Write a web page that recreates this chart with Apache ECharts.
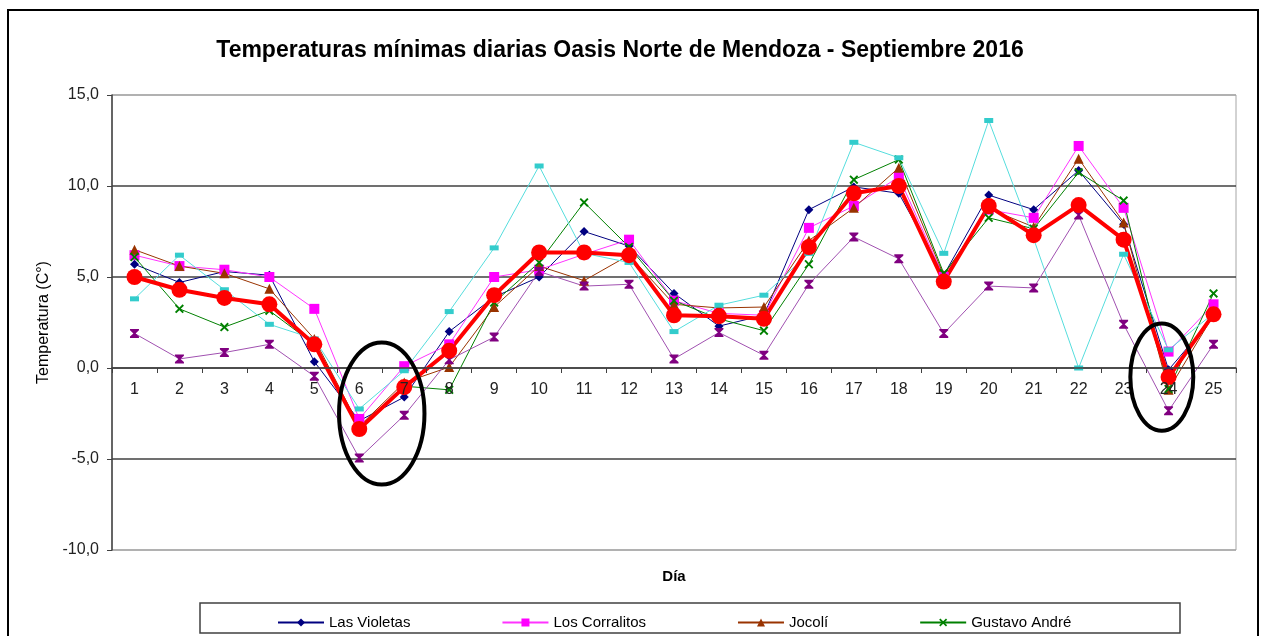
<!DOCTYPE html>
<html>
<head>
<meta charset="utf-8">
<script src="https://cdn.jsdelivr.net/npm/echarts@6/dist/echarts.min.js"></script>
<style>
  html, body { margin: 0; padding: 0; background: #fff; }
  #main { width: 1265px; height: 636px; }
</style>
</head>
<body>
<div id="main"></div>
<script>
// dias del mes
var dias = ['1','2','3','4','5','6','7','8','9','10','11','12','13','14','15','16','17','18','19','20','21','22','23','24','25'];

// minimas por estacion
var lasVioletas   = [5.7, 4.7, 5.3, 5.1, 0.35, -2.9, -1.6, 2.0, 3.9, 5.0, 7.5, 6.7, 4.1, 2.3, 2.9, 8.7, 9.95, 9.6, 5.1, 9.5, 8.7, 10.85, 7.9, -0.1, 2.8];
var losCorralitos = [6.2, 5.6, 5.4, 5.0, 3.25, -2.8, 0.1, 1.3, 5.0, 5.4, 6.25, 7.05, 3.7, 3.0, 2.9, 7.7, 8.9, 10.5, 5.0, 8.7, 8.25, 12.2, 8.8, 0.9, 3.5];
var jocoli        = [6.5, 5.6, 5.2, 4.35, 1.6, -3.2, -0.8, 0.05, 3.35, 5.6, 4.8, 6.2, 3.5, 3.3, 3.35, 7.0, 8.8, 11.0, 5.1, 8.75, 7.75, 11.5, 8.0, -1.2, 2.9];
var gustavoAndre  = [6.1, 3.25, 2.25, 3.15, 1.3, -3.3, -1.0, -1.2, 3.6, 5.8, 9.1, 6.65, 3.7, 2.7, 2.05, 5.7, 10.35, 11.45, 5.2, 8.25, 7.65, 10.75, 9.2, -1.15, 4.1];
var estacion5     = [3.8, 6.2, 4.3, 2.4, 1.6, -2.25, -0.15, 3.1, 6.6, 11.1, 6.3, 5.8, 2.0, 3.45, 4.0, 6.3, 12.4, 11.55, 6.3, 13.6, 7.1, 0.0, 6.25, 1.0, 3.0];
var estacion6     = [1.9, 0.5, 0.85, 1.3, -0.45, -4.95, -2.6, 0.45, 1.7, 5.3, 4.5, 4.6, 0.5, 1.95, 0.7, 4.6, 7.2, 6.0, 1.9, 4.5, 4.4, 8.4, 2.4, -2.35, 1.3];
var promedio      = [5.0, 4.3, 3.85, 3.5, 1.3, -3.35, -1.05, 0.95, 4.0, 6.35, 6.35, 6.2, 2.9, 2.85, 2.7, 6.65, 9.6, 10.0, 4.75, 8.9, 7.3, 8.95, 7.05, -0.5, 2.95];

// marcas resaltadas con elipse: [dia centro, valor centro, ancho en dias, alto en grados]
var elipses = [[6.5, -2.5, 1.9, 7.8], [23.85, -0.5, 1.4, 5.9]];

var FONT = '"Liberation Sans", Arial, sans-serif';
var XMARK = 'path://M0,1.5L1.5,0L5,3.5L8.5,0L10,1.5L6.5,5L10,8.5L8.5,10L5,6.5L1.5,10L0,8.5L3.5,5Z';
var RELOJ = 'path://M0,0L10,0L10,1.5L6.2,5L10,8.5L10,10L0,10L0,8.5L3.8,5L0,1.5Z';

var GRID_TOP = 95, GRID_BOTTOM = 86, Y_MIN = -10, Y_MAX = 15;
// el eje x va en el cero: se sube desde el borde inferior
var altoGrid = 636 - GRID_TOP - GRID_BOTTOM;
var offsetCero = altoGrid * (0 - Y_MIN) / (Y_MAX - Y_MIN);

var myChart = echarts.init(document.getElementById('main'));

function serie(name, data, color, symbol, size, width) {
  return {
    name: name,
    type: 'line',
    data: data,
    symbol: symbol,
    symbolSize: size,
    showSymbol: true,
    lineStyle: { color: color, width: width || 1 },
    itemStyle: { color: color, borderWidth: 0 },
    emphasis: { disabled: true },
    animation: false
  };
}

var option = {
  animation: false,
  title: {
    text: 'Temperaturas mínimas diarias Oasis Norte de Mendoza - Septiembre 2016',
    left: 615,
    textAlign: 'center',
    top: 34,
    textStyle: { fontFamily: FONT, fontSize: 23, fontWeight: 'bold', color: '#000' }
  },
  legend: {
    left: 272,
    top: 610,
    itemWidth: 46,
    itemHeight: 10,
    itemGap: 91,
    data: ['Las Violetas', 'Los Corralitos', 'Jocolí', 'Gustavo André'],
    textStyle: { fontFamily: FONT, fontSize: 15, color: '#000' }
  },
  grid: {
    left: 112, right: 29, top: GRID_TOP, bottom: GRID_BOTTOM,
    containLabel: false,
    outerBoundsMode: 'none',
    show: true, borderColor: '#a6a6a6', borderWidth: 1
  },
  xAxis: {
    type: 'category',
    data: dias,
    position: 'bottom',
    offset: -offsetCero,
    z: 5,
    name: 'Día',
    nameLocation: 'middle',
    nameGap: 201,
    nameTextStyle: { fontFamily: FONT, fontSize: 15, fontWeight: 'bold', color: '#000' },
    axisLine: { onZero: false, lineStyle: { color: '#404040', width: 1.5 } },
    axisTick: { show: true, length: 5, lineStyle: { color: '#404040' } },
    axisLabel: { margin: 14, fontFamily: FONT, fontSize: 16, color: '#222' }
  },
  yAxis: {
    type: 'value',
    min: Y_MIN,
    max: Y_MAX,
    interval: 5,
    name: 'Temperatura (C°)',
    nameLocation: 'middle',
    nameGap: 51,
    nameTextStyle: { fontFamily: FONT, fontSize: 16, color: '#000' },
    axisLine: { show: true, lineStyle: { color: '#404040', width: 1.5 } },
    axisTick: { show: true, length: 5, lineStyle: { color: '#404040' } },
    axisLabel: {
      margin: 13, fontFamily: FONT, fontSize: 16, color: '#222',
      formatter: function (v) { return v.toFixed(1).replace('.', ','); }
    },
    splitLine: { lineStyle: { color: ['#a6a6a6', '#404040', '#404040', '#404040', '#404040', '#a6a6a6'], width: 1.5 } }
  },
  series: [
    serie('Las Violetas', lasVioletas, '#000080', 'diamond', 9),
    serie('Los Corralitos', losCorralitos, '#ff00ff', 'rect', 10),
    serie('Jocolí', jocoli, '#993300', 'triangle', 10),
    serie('Gustavo André', gustavoAndre, '#008000', XMARK, 9),
    serie('Estación 5', estacion5, '#33cccc', 'rect', [9, 5]),
    serie('Estación 6', estacion6, '#800080', RELOJ, 9),
    serie('Promedio', promedio, '#ff0000', 'circle', 16, 4)
  ]
};
option.series[1].lineStyle.color = '#ff33ff';
option.series[5].lineStyle.color = '#a050b0';
option.series[4].lineStyle.color = '#55dddd';
myChart.setOption(option);

// posicion en pixeles de un dia fraccionario (eje de categorias)
function pixel(dia, valor) {
  var i0 = Math.floor(dia) - 1, f = dia - Math.floor(dia);
  var p0 = myChart.convertToPixel({ gridIndex: 0 }, [i0, valor]);
  var p1 = myChart.convertToPixel({ gridIndex: 0 }, [i0 + 1, valor]);
  return [p0[0] + (p1[0] - p0[0]) * f, p0[1]];
}

// marco del grafico y elipses de resaltado
var graficos = [{
  type: 'rect', silent: true, z: 100,
  shape: { x: 8, y: 10, width: 1250, height: 700 },
  style: { fill: 'none', stroke: '#000', lineWidth: 2 }
}, {
  type: 'rect', silent: true, z: 100,
  shape: { x: 200, y: 603, width: 980, height: 30 },
  style: { fill: 'none', stroke: '#404040', lineWidth: 1.5 }
}];
elipses.forEach(function (e) {
  var c = pixel(e[0], e[1]);
  var a = pixel(e[0] + e[2] / 2, e[1] + e[3] / 2);
  graficos.push({
    type: 'ellipse', silent: true, z: 100,
    shape: { cx: c[0], cy: c[1], rx: Math.abs(a[0] - c[0]), ry: Math.abs(c[1] - a[1]) },
    style: { fill: 'none', stroke: '#000', lineWidth: 4 }
  });
});
myChart.setOption({ graphic: graficos });
</script>
</body>
</html>
